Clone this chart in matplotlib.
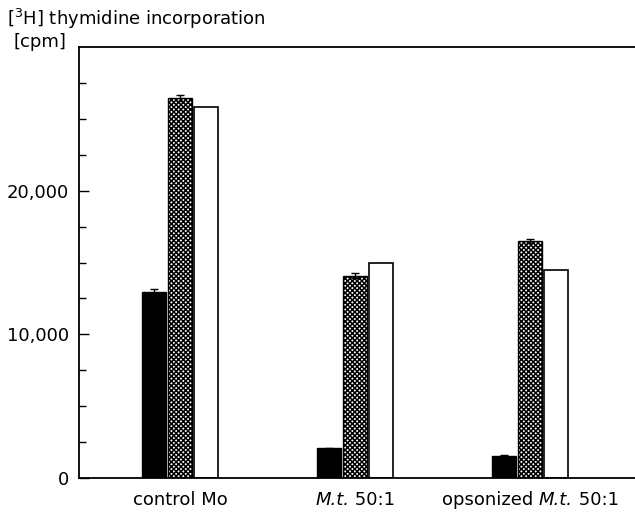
import numpy as np
import matplotlib
matplotlib.use('Agg')
import matplotlib.pyplot as plt
from matplotlib.offsetbox import TextArea, HPacker, AnnotationBbox

plt.rcParams['font.family'] = ['DejaVu Sans']
plt.rcParams['mathtext.fontset'] = 'custom'
plt.rcParams['mathtext.rm'] = 'DejaVu Sans'
plt.rcParams['hatch.linewidth'] = 1.1

# data (cpm)
# each label is a list of (text, style) pieces so "M.t." can be italic
groups = [
    [('control Mo', 'normal')],
    [('M.t.', 'italic'), (' 50:1', 'normal')],
    [('opsonized ', 'normal'), ('M.t.', 'italic'), (' 50:1', 'normal')],
]
black_vals = [12950, 2060, 1550]
black_err = [220, 60, 40]
hatched_vals = [26440, 14080, 16520]
hatched_err = [200, 180, 150]
white_vals = [25850, 14980, 14510]

fig = plt.figure(figsize=(6.35, 5.13), dpi=100)
ax = fig.add_axes([0.1244, 0.0682, 0.8756, 0.84])

x = np.arange(len(groups))
w = 0.137
step = 0.149

ax.bar(x - step, black_vals, w, color='black', edgecolor='black', linewidth=1,
       yerr=black_err, error_kw=dict(ecolor='black', elinewidth=1, capsize=3, capthick=1))
ax.bar(x, hatched_vals, w, color='white', edgecolor='black', hatch='x' * 7, linewidth=1,
       yerr=hatched_err, error_kw=dict(ecolor='black', elinewidth=1, capsize=3, capthick=1))
ax.bar(x + step, white_vals, w, color='white', edgecolor='black', linewidth=1.2)

ax.set_xlim(-0.58, 2.6)
ax.set_ylim(0, 30000)
ax.set_yticks([0, 10000, 20000])
ax.set_yticklabels(['0', '10,000', '20,000'])
ax.set_yticks(np.arange(0, 30000, 2500), minor=True)
ax.tick_params(axis='y', which='major', direction='in', length=7, width=1, labelsize=13, pad=7)
ax.tick_params(axis='y', which='minor', direction='in', length=5, width=1)
ax.set_xticks([])

# group labels with mixed italic / upright pieces
for xi, pieces in zip(x, groups):
    parts = [TextArea(t, textprops=dict(fontsize=13, fontstyle=s)) for t, s in pieces]
    box = HPacker(children=parts, pad=0, sep=0, align='baseline')
    ab = AnnotationBbox(box, (xi, 0), xycoords=('data', 'axes fraction'),
                        xybox=(0, -9), boxcoords='offset points',
                        box_alignment=(0.5, 1), frameon=False, pad=0)
    ax.add_artist(ab)

ax.spines['right'].set_visible(False)
for s in ['left', 'bottom', 'top']:
    ax.spines[s].set_linewidth(1.3)

fig.text(0.011, 0.963, r'[$^{3}$H] thymidine incorporation', fontsize=13, va='center', ha='left')
fig.text(0.022, 0.918, '[cpm]', fontsize=13, va='center', ha='left')

fig.savefig('out.png', dpi=100)
